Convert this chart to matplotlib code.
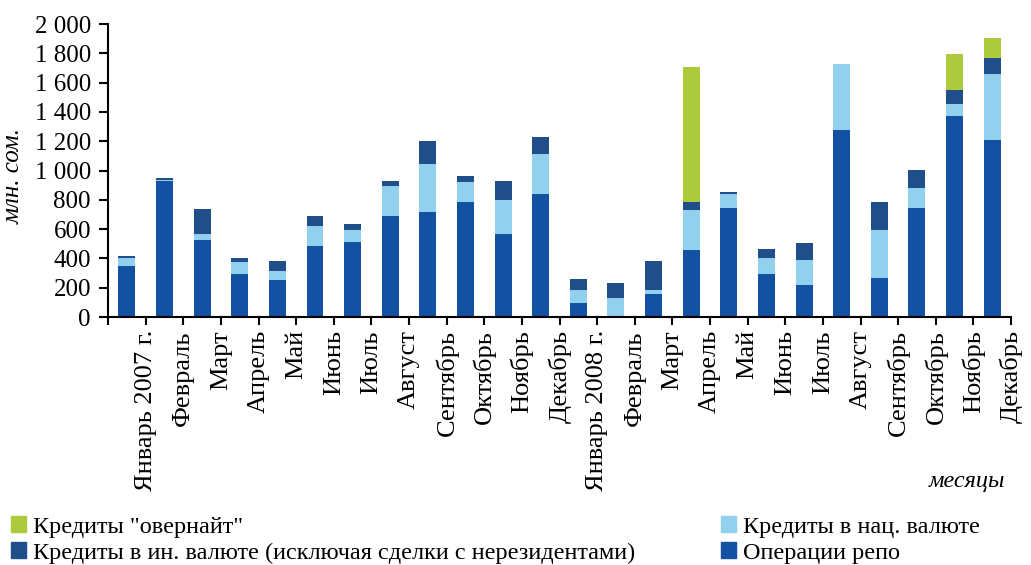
import matplotlib
matplotlib.use("Agg")
import matplotlib.pyplot as plt
from matplotlib.ticker import FuncFormatter
from matplotlib.patches import Patch
import numpy as np

plt.rcParams['font.family'] = ['Liberation Serif', 'DejaVu Serif']

months = ["Январь 2007 г.", "Февраль", "Март", "Апрель", "Май", "Июнь", "Июль",
          "Август", "Сентябрь", "Октябрь", "Ноябрь", "Декабрь",
          "Январь 2008 г.", "Февраль", "Март", "Апрель", "Май", "Июнь", "Июль",
          "Август", "Сентябрь", "Октябрь", "Ноябрь", "Декабрь"]

# млн. сом.
repo = [346, 930, 523, 291, 250, 482, 510, 687, 714, 783, 564, 837,
        93, 0, 155, 455, 742, 291, 216, 1274, 264, 742, 1370, 1206]
nat_cur = [54, 7, 41, 82, 62, 137, 81, 205, 328, 136, 232, 273,
           89, 127, 27, 273, 95, 109, 171, 450, 328, 136, 81, 450]
foreign_cur = [14, 9, 171, 30, 68, 68, 41, 34, 157, 41, 130, 116,
               75, 103, 198, 55, 14, 62, 116, 0, 191, 123, 96, 109]
overnight = [0, 0, 0, 0, 0, 0, 0, 0, 0, 0, 0, 0,
             0, 0, 0, 921, 0, 0, 0, 0, 0, 0, 246, 137]

c_repo = "#1351a2"
c_nat = "#91d1ee"
c_for = "#1f4e8b"
c_ovn = "#acca3b"

fig = plt.figure(figsize=(10.31, 5.65), dpi=100)
ax = fig.add_axes([0.1048, 0.4389, 0.8758, 0.5186])

x = np.arange(len(months))
w = 0.45
b1 = np.array(repo)
b2 = b1 + np.array(nat_cur)
b3 = b2 + np.array(foreign_cur)
ax.bar(x, repo, w, color=c_repo)
ax.bar(x, nat_cur, w, bottom=b1, color=c_nat)
ax.bar(x, foreign_cur, w, bottom=b2, color=c_for)
ax.bar(x, overnight, w, bottom=b3, color=c_ovn)

ax.set_xlim(-0.5, len(months) - 0.5)
ax.set_ylim(0, 2000)
ax.set_yticks(np.arange(0, 2001, 200))
ax.yaxis.set_major_formatter(FuncFormatter(lambda v, p: f"{int(v):,}".replace(",", " ")))
ax.set_xticks(np.arange(-0.5, len(months), 1))
ax.set_xticklabels([""] + months, rotation=90)

for s in ["top", "right"]:
    ax.spines[s].set_visible(False)
for s in ["left", "bottom"]:
    ax.spines[s].set_linewidth(1.5)
ax.tick_params(axis="y", direction="out", length=6.5, width=1.5, pad=5.8, labelsize=18)
ax.tick_params(axis="x", direction="out", length=6, width=1.5, pad=3.5, labelsize=19)

ax.set_ylabel("млн. сом.", fontsize=18, style="italic")
ax.yaxis.set_label_coords(-0.092, 0.48)
fig.text(0.975, 0.147, "месяцы", fontsize=17.5, style="italic", ha="right", va="center")

leg_kw = dict(frameon=False, fontsize=17.5, handlelength=0.62, handleheight=0.62,
              handletextpad=0.29, labelspacing=0.2, borderpad=0, borderaxespad=0)
fig.legend(handles=[Patch(color=c_ovn, label='Кредиты "овернайт"'),
                    Patch(color=c_for, label="Кредиты в ин. валюте (исключая сделки с нерезидентами)")],
           loc="lower left", bbox_to_anchor=(0.011, 0.002), **leg_kw)
fig.legend(handles=[Patch(color=c_nat, label="Кредиты в нац. валюте"),
                    Patch(color=c_repo, label="Операции репо")],
           loc="lower left", bbox_to_anchor=(0.699, 0.002), **leg_kw)

fig.savefig("out.png", dpi=100)
